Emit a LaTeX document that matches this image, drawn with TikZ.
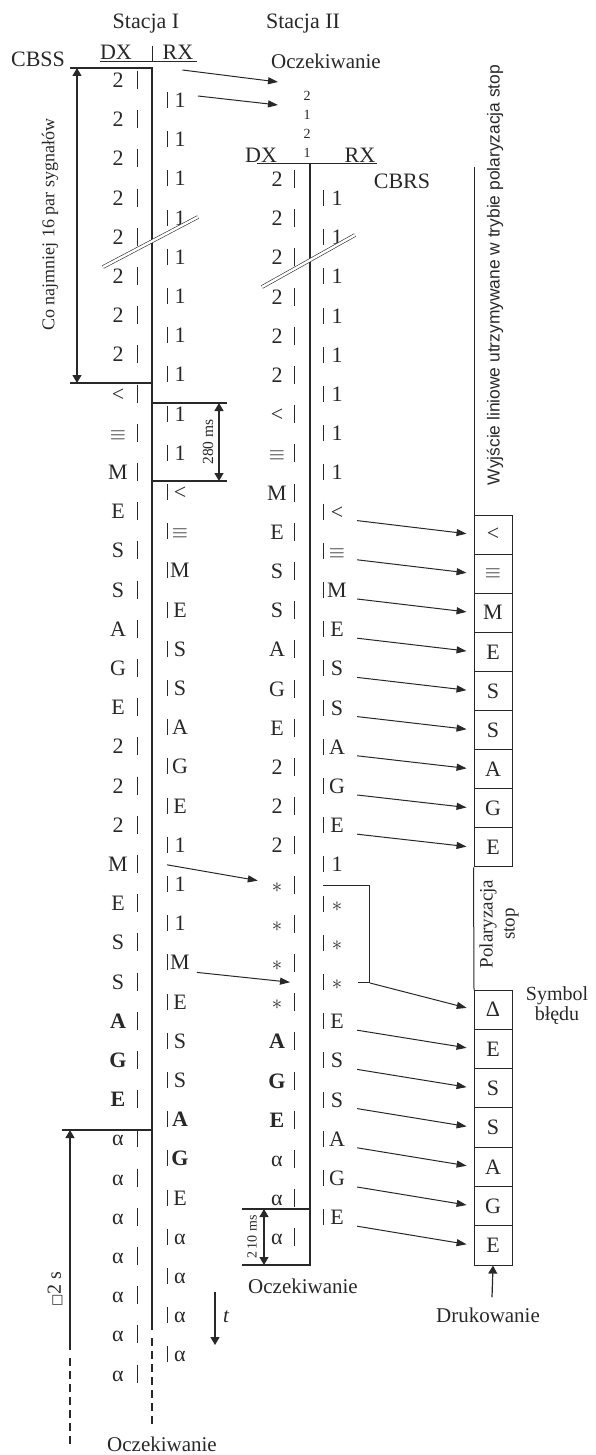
\documentclass[tikz,border=0pt]{standalone}
\usepackage{fontspec}
\setmainfont{Liberation Serif}
\newfontfamily\sansfam{Liberation Sans}
\newfontfamily\symfam{DejaVu Sans}
\usetikzlibrary{arrows.meta}
\definecolor{ink}{RGB}{40,40,40}
\newcommand{\fs}[1]{\fontsize{#1}{#1}\selectfont}

\begin{document}
\begin{tikzpicture}[x=1pt, y=-1pt, ink,
  every node/.style={inner sep=0pt, text=ink},
  sym/.style={font=\fs{22}, text height=15pt, text depth=0pt, minimum width=24pt},
  lbl/.style={font=\fs{21}, anchor=base},
  head/.style={font=\fs{22}, anchor=base},
  bar/.style={line width=1pt},
  axis/.style={line width=1.3pt},
  arr/.style={-{Triangle[length=10pt,width=7pt]}, line width=1pt},
  boxarr/.style={arr, shorten >=7pt},
  dim/.style={{Triangle[length=8pt,width=9pt]}-{Triangle[length=8pt,width=9pt]}, line width=1.2pt},
  up/.style={-{Triangle[length=8pt,width=9pt]}, line width=1.2pt},
  cellbox/.style={draw, line width=1pt, minimum width=38pt, minimum height=39.1pt, font=\fs{22}},
  brk/.style={line width=0.6pt, double=white, double distance=2.4pt}]
\useasboundingbox (0,0) rectangle (596,1455);

% Stacja I
\node[head] (staI) at (146,29) {Stacja I};
\node[head] (cbss) at (38,67) {CBSS};
\node[head] (hdrIdx) at (116,60) {DX};
\node[head] (hdrIrx) at (178,60) {RX};
\draw[bar] (100,62) -- (197,62) (152,46) -- (152,62);
\draw[axis] (70,68) -- (152,68) -- (152,1330);
\draw[axis, dash pattern=on 8pt off 5pt] (152,1338) -- (152,1425);
\foreach \c [count=\i from 0] in {2,2,2,2,2,2,2,2,<,$\equiv$,M,E,S,S,A,G,E,2,2,2,M,E,S,S,{\textbf{A}},{\textbf{G}},{\textbf{E}},α,α,α,α,α,α,α} {
  \node[sym] (sIdx-\i) at (118,{80+39.2*\i}) {\c};
  \draw[bar] (137,{71+39.2*\i}) -- ++(0,18);
}
\foreach \c [count=\i from 0] in {1,1,1,1,1,1,1,1,1,1,<,$\equiv$,M,E,S,S,A,G,E,1,1,1,M,E,S,S,{\textbf{A}},{\textbf{G}},E,α,α,α,α} {
  \node[sym] (sIrx-\i) at (180,{100+39.2*\i}) {\c};
  \draw[bar] (167,{92+39.2*\i}) -- ++(0,16);
}
\draw[dim] (77,68) -- (77,383);
\draw[axis] (70,383) -- (152,383);
\node[font=\fs{18}, rotate=90] (minlbl) at (50,225) {Co najmniej 16 par sygnałów};
\draw[axis] (152,403) -- (227,403) (152,481) -- (227,481);
\draw[dim] (219,403) -- (219,481);
\node[font=\fs{15.5}, rotate=90] (t280) at (208,442) {280 ms};
\draw[axis] (62,1130) -- (152,1130);
\draw[up] (70,1350) -- (70,1130);
\draw[line width=1.2pt, dash pattern=on 8pt off 5pt] (70,1358) -- (70,1445);
\node[font=\fs{20}, rotate=90] (t2s) at (55,1289) {{\symfam\fs{13}□}2 s};
\draw[up] (215,1292) -- (215,1345);
\node[font=\fs{21}\itshape, anchor=base] (tlbl) at (226,1322) {t};
\node[lbl] (waitI) at (162,1451) {Oczekiwanie};

% Stacja II
\node[head] (staII) at (303,29) {Stacja II};
\node[lbl] (waitA) at (326,69) {Oczekiwanie};
\node[font=\fontsize{14}{19}\selectfont, align=center] (stack) at (307,124.5) {2\\1\\2\\1};
\node[head] (hdrIIdx) at (261,162.5) {DX};
\node[head] (hdrIIrx) at (360,162.5) {RX};
\node[head] (cbrs) at (402,189) {CBRS};
\draw[bar] (257,164) -- (377,164);
\draw[axis] (310,164) -- (310,1265) -- (242,1265);
\draw[axis] (242,1209) -- (310,1209);
\foreach \c [count=\i from 0] in {2,2,2,2,2,2,<,$\equiv$,M,E,S,S,A,G,E,2,2,2,$\ast$,$\ast$,$\ast$,$\ast$,{\textbf{A}},{\textbf{G}},{\textbf{E}},α,α,α} {
  \node[sym] (sIIdx-\i) at (277,{179+39.2*\i}) {\c};
  \draw[bar] (294,{170+39.2*\i}) -- ++(0,18);
}
\foreach \c [count=\i from 0] in {1,1,1,1,1,1,1,1,<,$\equiv$,M,E,S,S,A,G,E,1,$\ast$,$\ast$,$\ast$,E,S,S,A,G,E} {
  \node[sym] (sIIrx-\i) at (337,{198+39.2*\i}) {\c};
  \draw[bar] (323,{190+39.2*\i}) -- ++(0,16);
}
\draw[dim] (264,1209) -- (264,1265);
\node[font=\fs{14}, rotate=90] (t210) at (252,1237) {2\,10 ms};
\node[lbl] (waitII) at (303,1293) {Oczekiwanie};

\coordinate (in1) at (278,82);
\coordinate (in2) at (278,105);
\draw[arr] ([shift={(-11pt,-10pt)}]hdrIrx.base east) -- (in1);
\draw[arr] ([shift={(18pt,4pt)}]sIrx-0.center) -- (in2);
\draw[arr] ([shift={(-13pt,-20pt)}]sIrx-19.center) -- ([shift={(-7pt,4pt)}]sIIdx-18.west);
\draw[arr] ([shift={(17pt,-10pt)}]sIrx-22.center) -- ([shift={(13pt,20pt)}]sIIdx-21.center);

\draw[brk] (103,267) -- (198,217);
\draw[brk] (262,287) -- (355,235);

% wyjscie liniowe
\draw[bar] (474,167) -- (474,515);
\foreach \c [count=\k] in {<,$\equiv$,M,E,S,S,A,G,E}
  \node[cellbox] (out-\k) at (493,{495.45+39.1*\k}) {\c};
\draw[bar] (out-9.south west) -- (474,990);
\foreach \c [count=\k] in {Δ,E,S,S,A,G,E}
  \node[cellbox, minimum height=39.3pt] (err-\k) at (493,{970.35+39.3*\k}) {\c};
\foreach \k [evaluate=\k as \j using int(\k+7)] in {1,...,9}
  \draw[boxarr] ([shift={(8pt,-9pt)}]sIIrx-\j.east) -- (out-\k.west);
\foreach \k [evaluate=\k as \j using int(\k+19)] in {2,...,7}
  \draw[boxarr] ([shift={(8pt,-9pt)}]sIIrx-\j.east) -- (err-\k.west);
\draw[bar] (323,885) -- (369,885) -- (369,982) -- (358,982);
\coordinate (brace) at (370,983);
\draw[boxarr] (brace) -- (err-1.west);

\node[font={\sansfam\fs{17.4}}, rotate=90] (outlbl) at (495,275) {Wyjście liniowe utrzymywane w trybie polaryzacja stop};
\node[font=\fontsize{19}{22}\selectfont, rotate=90, align=center] (polar) at (499,924) {Polaryzacja\\stop};
\node[font=\fontsize{20}{20}\selectfont, align=center] (errlbl) at (557,1006) {Symbol\\błędu};
\node[lbl] (print) at (488,1322) {Drukowanie};
\draw[up] ([shift={(4pt,10pt)}]print.north) -- (err-7.south);
\end{tikzpicture}
\end{document}
